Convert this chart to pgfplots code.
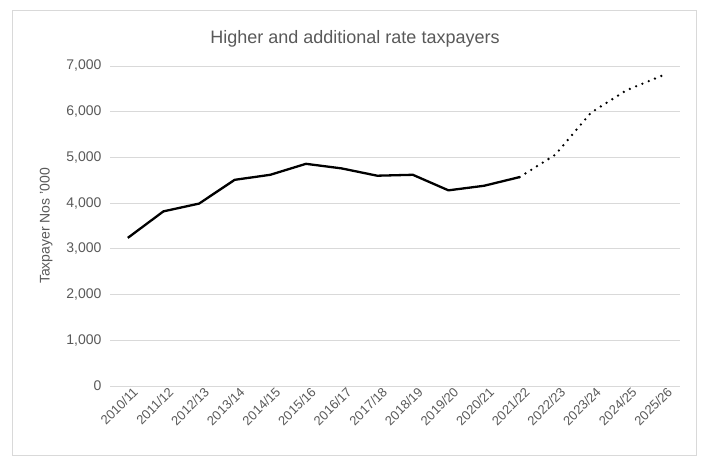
\documentclass[border=0pt]{standalone}
\usepackage{pgfplots}
\pgfplotsset{compat=1.18}
\usepackage{fontspec}
\setmainfont{Liberation Sans}
\definecolor{txtc}{HTML}{595959}
\definecolor{gridc}{HTML}{D9D9D9}
\begin{document}
\begin{tikzpicture}[x=1bp,y=1bp]
\path (0,0) rectangle (704,459);
\draw[gridc,line width=0.6bp] (12,4) rectangle (696,449);
\node[txtc,font=\fontsize{18bp}{21bp}\selectfont] at (355,420) {Higher and additional rate taxpayers};
\begin{axis}[
  at={(110bp,73bp)}, anchor=south west,
  scale only axis, width=570bp, height=320bp,
  xmin=-0.5, xmax=15.5, ymin=0, ymax=7000,
  axis line style={draw=none},
  tick style={draw=none},
  ytick={0,1000,...,7000},
  xmajorgrids=false,
  ymajorgrids=true, y grid style={gridc,line width=0.9bp},
  xtick={0,...,15},
  xticklabels={2010/11,2011/12,2012/13,2013/14,2014/15,2015/16,2016/17,2017/18,2018/19,2019/20,2020/21,2021/22,2022/23,2023/24,2024/25,2025/26},
  x tick label style={rotate=45,anchor=north east,inner sep=1bp,font=\fontsize{13bp}{15bp}\selectfont,text=txtc,xshift=4bp,yshift=-2bp},
  y tick label style={font=\fontsize{14bp}{16bp}\selectfont,text=txtc,xshift=-5bp},
  /pgf/number format/assume math mode=true,
  /pgf/number format/.cd, 1000 sep={,},
  /pgfplots/.cd,
  ylabel={Taxpayer Nos '000},
  every axis y label/.style={at={(ticklabel cs:0.5)},rotate=90,anchor=south,yshift=7bp,font=\fontsize{14bp}{16bp}\selectfont,text=txtc},
  clip=false,
]
\addplot[black,line width=2.3bp,line join=round] coordinates {
(0,3240) (1,3820) (2,3990) (3,4510) (4,4620) (5,4860) (6,4760) (7,4600) (8,4620) (9,4280) (10,4380) (11,4570)
};
\addplot[black,line width=2.6bp,line cap=round,dash pattern=on 0bp off 6.8bp] coordinates {
(11,4570) (12,5060) (13,5980) (14,6470) (15,6790)
};
\end{axis}
\end{tikzpicture}
\end{document}
